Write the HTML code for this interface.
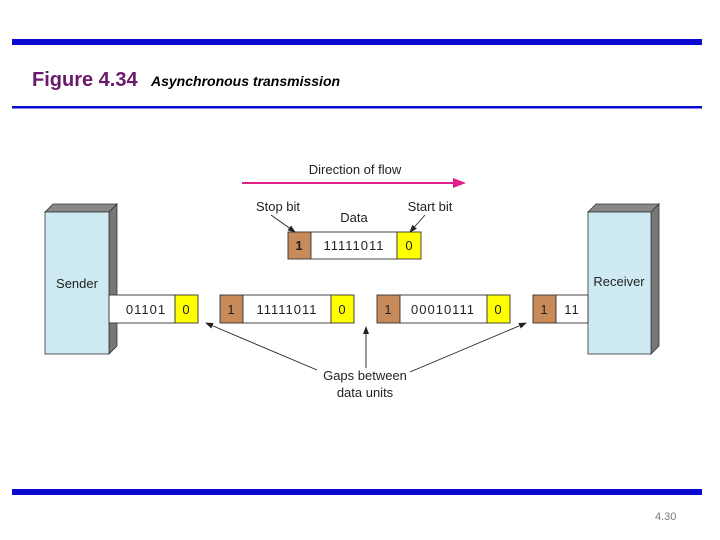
<!DOCTYPE html>
<html><head><meta charset="utf-8"><style>
html,body{margin:0;padding:0;background:#fff;}
svg{display:block;}
text{font-family:"Liberation Sans",sans-serif;}
</style></head><body>
<svg width="720" height="540" viewBox="0 0 720 540" xmlns="http://www.w3.org/2000/svg">
<defs>
<marker id="a" markerWidth="8" markerHeight="6" refX="7" refY="3" orient="auto" markerUnits="userSpaceOnUse"><path d="M0,0 L8,3 L0,6 Z" fill="#222"/></marker>
</defs>
<rect x="12" y="39" width="690" height="6" fill="#0a0ad0"/>
<rect x="12" y="106" width="690" height="2.5" fill="#0a0ad0"/>
<rect x="12" y="489" width="690" height="6" fill="#0a0ad0"/>
<text x="32" y="86" font-size="20" font-weight="bold" fill="#6a1a6a">Figure 4.34</text>
<text x="151" y="86" font-size="14" font-weight="bold" font-style="italic" fill="#000">Asynchronous transmission</text>
<text x="655" y="520" font-size="11" fill="#777">4.30</text>

<!-- direction -->
<text x="355" y="174" font-size="13" text-anchor="middle" fill="#222">Direction of flow</text>
<line x1="242" y1="183" x2="455" y2="183" stroke="#e0208a" stroke-width="2"/>
<path d="M453,178 L466,183 L453,188 Z" fill="#e0208a"/>

<!-- sender -->
<polygon points="45,212 53,204 117,204 109,212" fill="#888" stroke="#333" stroke-width="0.8"/>
<polygon points="109,212 117,204 117,346 109,354" fill="#777" stroke="#333" stroke-width="0.8"/>
<rect x="45" y="212" width="64" height="142" fill="#cdeaf2" stroke="#333" stroke-width="0.8"/>
<text x="77" y="288" font-size="13" text-anchor="middle" fill="#222">Sender</text>
<!-- receiver -->
<polygon points="588,212 596,204 659,204 651,212" fill="#888" stroke="#333" stroke-width="0.8"/>
<polygon points="651,212 659,204 659,346 651,354" fill="#777" stroke="#333" stroke-width="0.8"/>
<rect x="588" y="212" width="63" height="142" fill="#cdeaf2" stroke="#333" stroke-width="0.8"/>
<text x="619" y="286" font-size="13" text-anchor="middle" fill="#222">Receiver</text>

<g stroke="#333" stroke-width="0.9" font-size="13" text-anchor="middle" fill="#222">
<!-- top unit -->
<rect x="288" y="232" width="23" height="27" fill="#c98a5a"/>
<rect x="311" y="232" width="86" height="27" fill="#fff"/>
<rect x="397" y="232" width="24" height="27" fill="#ffff00"/>
<!-- row -->
<rect x="109" y="295" width="66" height="28" fill="#fff"/>
<rect x="175" y="295" width="23" height="28" fill="#ffff00"/>
<rect x="220" y="295" width="23" height="28" fill="#c98a5a"/>
<rect x="243" y="295" width="88" height="28" fill="#fff"/>
<rect x="331" y="295" width="23" height="28" fill="#ffff00"/>
<rect x="377" y="295" width="23" height="28" fill="#c98a5a"/>
<rect x="400" y="295" width="87" height="28" fill="#fff"/>
<rect x="487" y="295" width="23" height="28" fill="#ffff00"/>
<rect x="533" y="295" width="23" height="28" fill="#c98a5a"/>
<rect x="556" y="295" width="32" height="28" fill="#fff"/>
</g>
<g font-size="13" text-anchor="middle" fill="#222">
<text x="299" y="250" font-weight="bold">1</text>
<text x="354" y="250" letter-spacing="1">11111011</text>
<text x="409" y="250">0</text>
<text x="146" y="314" letter-spacing="1">01101</text>
<text x="186" y="314">0</text>
<text x="231" y="314">1</text>
<text x="287" y="314" letter-spacing="1">11111011</text>
<text x="342" y="314">0</text>
<text x="388" y="314">1</text>
<text x="443" y="314" letter-spacing="1">00010111</text>
<text x="498" y="314">0</text>
<text x="544" y="314">1</text>
<text x="572" y="314" letter-spacing="1">11</text>
<text x="278" y="211">Stop bit</text>
<text x="354" y="222">Data</text>
<text x="430" y="211">Start bit</text>
<text x="365" y="380">Gaps between</text>
<text x="365" y="397">data units</text>
</g>
<g stroke="#222" stroke-width="0.9" fill="none">
<line x1="271" y1="215" x2="295" y2="232" marker-end="url(#a)"/>
<line x1="425" y1="215" x2="410" y2="232" marker-end="url(#a)"/>
<line x1="317" y1="370" x2="206" y2="323" marker-end="url(#a)"/>
<line x1="366" y1="368" x2="366" y2="327" marker-end="url(#a)"/>
<line x1="410" y1="372" x2="526" y2="323" marker-end="url(#a)"/>
</g>
</svg>
</body></html>
